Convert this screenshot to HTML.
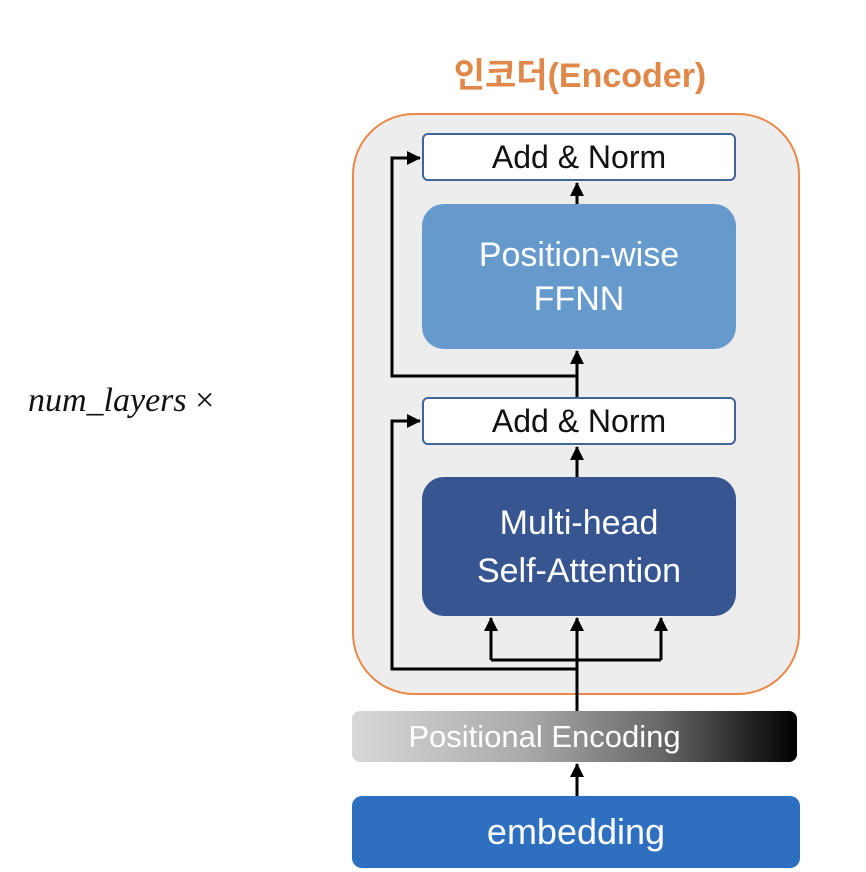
<!DOCTYPE html>
<html><head><style>
body{margin:0;width:866px;height:872px;background:#fff;overflow:hidden;position:relative;font-family:"Liberation Sans","Noto Sans CJK KR",sans-serif}
.a{position:absolute;box-sizing:border-box;display:flex;align-items:center;justify-content:center;text-align:center}
</style></head><body>
<div class="a" style="left:352px;top:113px;width:448px;height:582px;border:2px solid #e8894a;border-radius:62px;background:#ededed"></div>
<div class="a" style="left:400px;top:42px;width:360px;height:60px;color:#e0884a;font-size:34px;font-weight:bold">인코더(Encoder)</div>
<div class="a" style="left:422px;top:133px;width:314px;height:48px;background:#fff;border:2px solid #41659a;border-radius:6px;font-size:32px;color:#111">Add &amp; Norm</div>
<div class="a" style="left:422px;top:204px;width:314px;height:145px;background:#6699cc;border-radius:22px;color:#fff;font-size:34px;line-height:44px">Position-wise<br>FFNN</div>
<div class="a" style="left:422px;top:397px;width:314px;height:48px;background:#fff;border:2px solid #41659a;border-radius:6px;font-size:32px;color:#111">Add &amp; Norm</div>
<div class="a" style="left:422px;top:477px;width:314px;height:139px;background:#375590;border-radius:22px;color:#fff;font-size:34px;line-height:48px">Multi-head<br>Self-Attention</div>
<div class="a" style="left:352px;top:711px;width:445px;height:51px;background:linear-gradient(90deg,#d8d8d8,#a8a8a8 40%,#666 70%,#000);border-radius:8px;color:#fff;font-size:31px;padding-right:60px">Positional Encoding</div>
<div class="a" style="left:352px;top:796px;width:448px;height:72px;background:#2e6fbf;border-radius:10px;color:#fff;font-size:36px">embedding</div>
<div style="position:absolute;left:28px;top:382px;font-family:'Liberation Serif',serif;font-style:italic;font-size:34px;color:#111">num_layers <span style="font-style:normal">×</span></div>
<svg style="position:absolute;left:0;top:0" width="866" height="872">
<defs><marker id="m" markerWidth="8" markerHeight="8" refX="7" refY="4" orient="auto" markerUnits="userSpaceOnUse"><path d="M0,0L8,4L0,8z" fill="#000"/></marker>
<marker id="n" markerWidth="14" markerHeight="14" refX="13" refY="7" orient="auto" markerUnits="userSpaceOnUse"><path d="M0,0L14,7L0,14z" fill="#000"/></marker></defs>
<g stroke="#000" stroke-width="3" fill="none">
<path d="M577 796V764" marker-end="url(#n)"/>
<path d="M577 711V618" marker-end="url(#n)"/>
<path d="M491 660V618" marker-end="url(#n)"/>
<path d="M661 660V618" marker-end="url(#n)"/>
<path d="M491 660H661"/>
<path d="M577 669H392V421H420" marker-end="url(#n)"/>
<path d="M577 477V447" marker-end="url(#n)"/>
<path d="M577 397V351" marker-end="url(#n)"/>
<path d="M577 376H392V158H420" marker-end="url(#n)"/>
<path d="M577 204V183" marker-end="url(#n)"/>
</g></svg>
</body></html>
